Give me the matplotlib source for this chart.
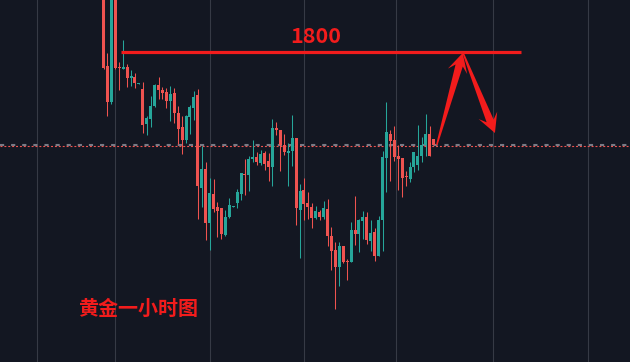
import numpy as np
import matplotlib
matplotlib.use("Agg")
import matplotlib.pyplot as plt
from matplotlib.patches import Polygon
from matplotlib.transforms import IdentityTransform

plt.rcParams['font.family'] = ['Noto Sans CJK SC', 'DejaVu Sans']
plt.rcParams['lines.scale_dashes'] = False

# --- hourly gold candles ---
opens = [1808.2, 1798.6, 1795.0, 1807.2, 1798.5, 1798.3, 1798.5, 1797.4, 1797.5, 1796.8,
         1796.3, 1792.8, 1793.3, 1794.6, 1796.7, 1796.2, 1796.0, 1795.1, 1795.9, 1793.9,
         1792.5, 1791.2, 1793.5, 1794.4, 1795.7, 1786.4, 1788.3, 1782.9, 1785.8, 1784.5,
         1784.4, 1781.7, 1783.5, 1784.5, 1784.9, 1785.8, 1787.8, 1787.7, 1789.3, 1789.5,
         1788.9, 1789.9, 1789.1, 1788.5, 1792.4, 1792.2, 1790.7, 1789.9, 1790.1, 1791.4,
         1784.2, 1786.2, 1784.9, 1784.5, 1783.4, 1784.0, 1783.5, 1784.3, 1781.6, 1780.2,
         1778.5, 1780.6, 1779.1, 1779.0, 1782.2, 1781.8, 1783.1, 1783.5, 1781.1, 1782.0,
         1779.6, 1783.2, 1789.4, 1791.8, 1791.2, 1789.6, 1789.4, 1787.6, 1787.3, 1788.5,
         1788.7, 1789.6, 1790.7, 1791.8, 1791.3]
highs = [1808.7, 1799.9, 1807.7, 1807.7, 1799.0, 1801.2, 1798.8, 1798.2, 1797.9, 1796.9,
         1797.0, 1793.6, 1795.6, 1796.8, 1797.5, 1796.5, 1796.4, 1796.6, 1796.4, 1794.6,
         1793.6, 1793.7, 1794.7, 1796.1, 1796.3, 1790.6, 1789.0, 1787.4, 1787.3, 1785.0,
         1784.4, 1784.2, 1785.4, 1784.6, 1786.3, 1787.9, 1789.3, 1789.6, 1791.2, 1790.0,
         1790.2, 1790.1, 1789.9, 1793.3, 1793.0, 1792.2, 1791.8, 1790.9, 1793.7, 1791.4,
         1786.8, 1787.4, 1786.0, 1784.9, 1784.6, 1784.2, 1785.1, 1785.3, 1782.5, 1781.0,
         1781.0, 1780.6, 1779.3, 1783.0, 1785.6, 1783.3, 1784.1, 1784.0, 1783.2, 1782.4,
         1783.6, 1790.1, 1795.0, 1792.2, 1792.6, 1790.7, 1789.4, 1788.1, 1789.0, 1790.0,
         1792.7, 1791.5, 1793.8, 1792.6, 1791.3]
lows = [1798.3, 1793.6, 1794.8, 1798.3, 1796.2, 1798.3, 1796.5, 1796.6, 1796.4, 1796.8,
        1791.9, 1791.7, 1792.5, 1794.5, 1795.3, 1795.3, 1794.4, 1793.1, 1792.9, 1790.8,
        1789.8, 1790.9, 1791.8, 1793.2, 1783.3, 1784.5, 1781.2, 1780.2, 1784.0, 1781.5,
        1781.3, 1781.6, 1783.4, 1784.5, 1784.4, 1785.2, 1785.7, 1786.1, 1789.0, 1788.7,
        1788.7, 1788.2, 1787.1, 1786.6, 1791.7, 1788.1, 1789.7, 1786.6, 1788.6, 1782.7,
        1779.4, 1783.2, 1783.3, 1782.4, 1783.3, 1783.2, 1783.3, 1780.6, 1778.2, 1774.3,
        1776.6, 1778.9, 1777.2, 1779.0, 1780.7, 1780.0, 1781.3, 1780.8, 1780.1, 1779.1,
        1779.6, 1780.1, 1786.0, 1787.1, 1789.1, 1786.2, 1785.5, 1786.6, 1787.0, 1788.0,
        1788.2, 1789.0, 1789.6, 1789.6, 1790.7]
closes = [1798.4, 1795.0, 1807.2, 1798.4, 1798.4, 1798.5, 1797.4, 1797.6, 1796.9, 1796.9,
          1792.7, 1793.4, 1794.6, 1796.7, 1796.2, 1795.9, 1795.1, 1795.8, 1793.9, 1792.3,
          1791.2, 1793.6, 1794.5, 1795.5, 1786.6, 1788.3, 1782.9, 1785.9, 1784.3, 1784.1,
          1781.8, 1783.5, 1784.7, 1784.6, 1786.0, 1787.9, 1787.7, 1789.3, 1789.5, 1789.0,
          1789.8, 1788.8, 1788.5, 1792.4, 1792.2, 1790.7, 1790.0, 1790.1, 1791.4, 1784.4,
          1786.1, 1784.8, 1784.5, 1783.4, 1784.1, 1783.5, 1784.4, 1781.6, 1780.1, 1778.5,
          1780.6, 1779.0, 1779.0, 1782.2, 1781.8, 1783.2, 1783.5, 1781.2, 1781.9, 1779.6,
          1783.2, 1789.5, 1792.0, 1791.1, 1789.5, 1789.3, 1787.4, 1787.5, 1788.5, 1790.0,
          1789.6, 1790.7, 1791.8, 1789.6, 1790.7]

day_lines = [-16.8, 2.9, 27.2, 51.1, 74.3, 99.1, 123.3]   # session separators (bar index)
target_level = 1800
target_label = "1800"
title_text = "黄金一小时图"
# forecast path: from last bar up to 1800, then back down
path_up = [(84.8, 1790.7), (91.4, 1799.9)]
path_down = [(91.5, 1799.9), (99.6, 1791.9)]

BG = '#131722'
UP = '#26a69a'
DOWN = '#ef5350'
MARK = '#f21c1c'

o = np.array(opens); h = np.array(highs); l = np.array(lows); c = np.array(closes)
x = np.arange(len(o))
cols = np.where(c >= o, UP, DOWN)

fig = plt.figure(figsize=(6.3, 3.62), dpi=100, facecolor=BG)
ax = fig.add_axes([0, 0, 1, 1], facecolor=BG)
ax.set_xlim(-26.34, 133.97)
ax.set_ylim(1769.0, 1805.2)
ax.axis('off')

for d in day_lines:
    ax.axvline(d, color='#363a45', lw=0.8, zorder=0)

# last price line
ax.axhline(c[-1] + 0.05, color='#787b86', lw=1.5, ls=(0, (3.0, 5.0)), zorder=1)
ax.axhline(c[-1] - 0.05, color=DOWN, lw=0.8, ls=(0, (1.4, 1.4)), zorder=1)

# candles
ax.vlines(x, l, h, colors=cols, lw=0.75, zorder=2)
body = np.maximum(np.abs(c - o), 0.1)
ax.bar(x, body, bottom=np.minimum(o, c), width=0.76, color=cols, lw=0, zorder=3)

# target line + label
ax.hlines(target_level, 4.45, 106.2, color=MARK, lw=2.3, zorder=4)
ax.text(54.1, target_level + 0.9, target_label, color=MARK, fontsize=15.5,
        fontweight='bold', ha='center', va='baseline', zorder=5)

ax.text(-6.6, 1773.7, title_text, color=MARK, fontsize=14.4, fontweight='bold',
        ha='left', va='baseline', zorder=5)


def draw_arrow(ax, start, end, w0, w1, head_w, head_l, barb):
    p0 = ax.transData.transform(start)
    p1 = ax.transData.transform(end)
    d = p1 - p0
    u = d / np.hypot(*d)
    n = np.array([-u[1], u[0]])
    neck = p1 - u * head_l
    wing = p1 - u * (head_l + barb)
    pts = [p0 + n * w0 / 2, neck + n * w1 / 2, wing + n * head_w / 2, p1,
           wing - n * head_w / 2, neck - n * w1 / 2, p0 - n * w0 / 2]
    ax.add_patch(Polygon(pts, closed=True, transform=IdentityTransform(),
                         facecolor=MARK, edgecolor='none', zorder=6))


draw_arrow(ax, path_up[0], path_up[1], 1.5, 7.5, 20, 13, 6)
draw_arrow(ax, path_down[0], path_down[1], 1.5, 7.5, 20, 13, 6)

fig.savefig('out.png', dpi=100, facecolor=BG)
